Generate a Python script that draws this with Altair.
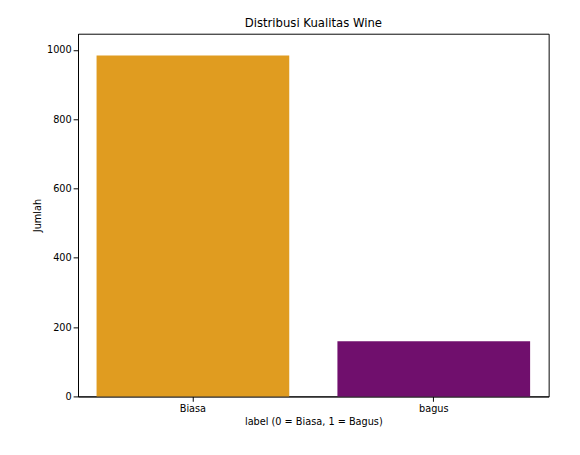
import altair as alt
import pandas as pd

labels = ["Biasa", "bagus"]
counts = [984, 159]
colors = ["#E09C20", "#700F6D"]

df = pd.DataFrame({"label": labels, "jumlah": counts, "warna": colors})

chart = (
    alt.Chart(df)
    .mark_bar()
    .encode(
        x=alt.X(
            "label:N",
            sort=labels,
            title="label (0 = Biasa, 1 = Bagus)",
            scale=alt.Scale(paddingInner=0.2, paddingOuter=0.077),
            axis=alt.Axis(labelAngle=0, labelFontSize=10, titleFontSize=10,
                          titleFontWeight="normal", labelColor="black",
                          titleColor="black", tickColor="black", domainColor="black"),
        ),
        y=alt.Y(
            "jumlah:Q",
            title="Jumlah",
            scale=alt.Scale(domain=[0, 1047], nice=False),
            axis=alt.Axis(values=[0, 200, 400, 600, 800, 1000], format="d", grid=False,
                          labelFontSize=10, titleFontSize=10, titleFontWeight="normal",
                          labelColor="black", titleColor="black",
                          tickColor="black", domainColor="black"),
        ),
        color=alt.Color("warna:N", scale=None),
    )
    .properties(
        width=484,
        height=373,
        title=alt.Title("Distribusi Kualitas Wine", fontSize=12, fontWeight="normal"),
        autosize=alt.AutoSizeParams(type="none"),
        padding={"left": 72, "top": 20, "right": 24, "bottom": 62},
    )
    .configure(font="DejaVu Sans")
    .configure_view(stroke="black")
)

chart.save("out.html", embed_options={"renderer": "svg", "actions": False})
